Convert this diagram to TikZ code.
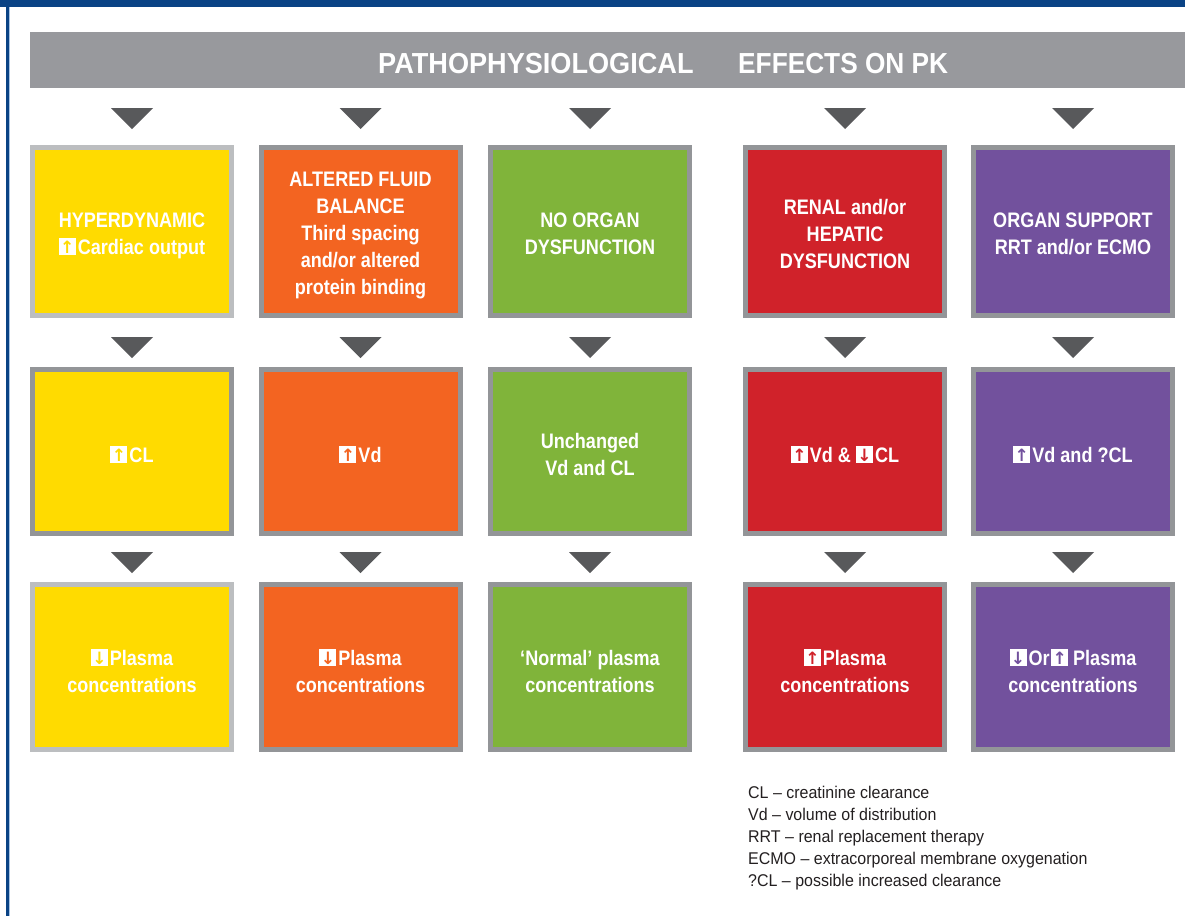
\documentclass[tikz,border=0pt]{standalone}
\usepackage{fontspec}
\setmainfont{Liberation Sans}
\newfontfamily\boxfont{Liberation Sans}[FakeStretch=0.86]
\newfontfamily\headfont{Liberation Sans}[FakeStretch=0.935]
\newfontfamily\headfontb{Liberation Sans}[FakeStretch=0.905]
\newfontfamily\legfont{Liberation Sans}[FakeStretch=0.94]
\newfontfamily\arrfont{DejaVu Sans}
\usetikzlibrary{calc}
\definecolor{cblue}{HTML}{0A4385}
\definecolor{clblue}{HTML}{A8C4E4}
\definecolor{chead}{HTML}{98999D}
\definecolor{ctri}{HTML}{58595B}
\definecolor{cyel}{HTML}{FFDB00}
\definecolor{corg}{HTML}{F36421}
\definecolor{cgrn}{HTML}{80B43A}
\definecolor{cred}{HTML}{D0222A}
\definecolor{cpur}{HTML}{72519D}
\definecolor{bdark}{HTML}{939598}
\definecolor{blight}{HTML}{BCBEC0}
\definecolor{clegend}{HTML}{231F20}
\newcommand\icon[2]{{\setlength{\fboxsep}{0pt}\colorbox{white}{\makebox[17pt][c]{\rule{0pt}{17pt}\raisebox{1.2pt}[0pt][0pt]{\arrfont\bfseries\fontsize{17pt}{17pt}\selectfont\textcolor{#1}{#2}}}}}\hspace{2pt}}
\newcommand\upico[1]{\icon{#1}{↑}}
\newcommand\dnico[1]{\icon{#1}{↓}}
\newcommand\tri[2]{\fill[tri] ($(#1.north)+(-21,-#2)$) -- ++(42,0) -- ++(-21,21) -- cycle;}
\tikzset{
  box/.style={draw=bdark, line width=5pt, minimum width=199pt, inner sep=0pt},
  btext/.style={inner sep=0pt, align=center, text=white,
    font=\boxfont\bfseries\fontsize{21pt}{27pt}\selectfont},
  rowA/.style={minimum height=168pt},
  rowB/.style={minimum height=164pt},
  rowC/.style={minimum height=165pt},
  tri/.style={fill=ctri},
  headtext/.style={anchor=base west, inner sep=0pt, text=white,
    font=\headfont\bfseries\fontsize{29pt}{29pt}\selectfont},
  legend/.style={anchor=base west, inner sep=0pt, text=clegend,
    font=\legfont\fontsize{17pt}{22pt}\selectfont},
}
\begin{document}
\begin{tikzpicture}[x=1pt,y=-1pt]
\useasboundingbox (0,0) rectangle (1185,916);
% frame
\fill[cblue] (0,0) rectangle (1185,7);
\fill[cblue] (6,0) rectangle (9,916);
\fill[clblue] (9,7) rectangle (10.3,916);
% header
\node[fill=chead, anchor=north west, minimum width=1155pt, minimum height=56pt, inner sep=0pt] (head) at (30,32) {};
\node[headtext] (h1) at (378,73) {PATHOPHYSIOLOGICAL};
\node[headtext, font=\headfontb\bfseries\fontsize{29pt}{29pt}\selectfont] (h2) at (738,73) {EFFECTS ON PK};
% row A boxes
\node[box, rowA, fill=cyel, draw=blight] (a1) at (132,231.5) {};
\node[box, rowA, fill=corg] (a2) at (360.5,231.5) {};
\node[box, rowA, fill=cgrn] (a3) at (590,231.5) {};
\node[box, rowA, fill=cred] (a4) at (845,231.5) {};
\node[box, rowA, fill=cpur] (a5) at (1073,231.5) {};
% row B boxes
\node[box, rowB, fill=cyel] (b1) at (132,451.5) {};
\node[box, rowB, fill=corg] (b2) at (360.5,451.5) {};
\node[box, rowB, fill=cgrn] (b3) at (590,451.5) {};
\node[box, rowB, fill=cred] (b4) at (845,451.5) {};
\node[box, rowB, fill=cpur] (b5) at (1073,451.5) {};
% row C boxes
\node[box, rowC, fill=cyel, draw=blight] (c1) at (132,667) {};
\node[box, rowC, fill=corg] (c2) at (360.5,667) {};
\node[box, rowC, fill=cgrn] (c3) at (590,667) {};
\node[box, rowC, fill=cred] (c4) at (845,667) {};
\node[box, rowC, fill=cpur] (c5) at (1073,667) {};
% texts
\node[btext] (a1t) at ($(a1)+(0,4.5)$) {HYPERDYNAMIC\\\upico{cyel}Cardiac output};
\node[btext] (a2t) at ($(a2)+(0,4)$) {ALTERED FLUID\\BALANCE\\Third spacing\\and/or altered\\protein binding};
\node[btext] (a3t) at ($(a3)+(0,2.5)$) {NO ORGAN\\DYSFUNCTION};
\node[btext] (a4t) at ($(a4)+(0,2.5)$) {RENAL and/or\\HEPATIC\\DYSFUNCTION};
\node[btext] (a5t) at ($(a5)+(0,2.5)$) {ORGAN SUPPORT\\RRT and/or ECMO};
\node[btext] (b1t) at ($(b1)+(0,3)$) {\upico{cyel}CL};
\node[btext] (b2t) at ($(b2)+(0,3)$) {\upico{corg}Vd};
\node[btext] (b3t) at ($(b3)+(0,3)$) {Unchanged\\Vd and CL};
\node[btext] (b4t) at ($(b4)+(0,3)$) {\upico{cred}Vd \& \dnico{cred}CL};
\node[btext] (b5t) at ($(b5)+(0,3)$) {\upico{cpur}Vd and ?CL};
\node[btext] (c1t) at ($(c1)+(0,4)$) {\dnico{cyel}Plasma\\concentrations};
\node[btext] (c2t) at ($(c2)+(0,4)$) {\dnico{corg}Plasma\\concentrations};
\node[btext] (c3t) at ($(c3)+(0,4)$) {‘Normal’ plasma\\concentrations};
\node[btext] (c4t) at ($(c4)+(0,4)$) {\upico{cred}Plasma\\concentrations};
\node[btext] (c5t) at ($(c5)+(0,4)$) {\dnico{cpur}Or\hspace{1.5pt}\upico{cpur}\hspace{3pt}Plasma\\concentrations};
% triangles
\foreach \n in {a1,a2,a3,a4,a5}{\tri{\n}{37}}
\foreach \n in {b1,b2,b3,b4,b5}{\tri{\n}{30}}
\foreach \n in {c1,c2,c3,c4,c5}{\tri{\n}{30}}
% legend
\node[legend] (l1) at (748,798) {CL – creatinine clearance};
\node[legend] (l2) at (748,820) {Vd – volume of distribution};
\node[legend] (l3) at (748,842) {RRT – renal replacement therapy};
\node[legend] (l4) at (748,864) {ECMO – extracorporeal membrane oxygenation};
\node[legend] (l5) at (748,886) {?CL – possible increased clearance};
\end{tikzpicture}
\end{document}
